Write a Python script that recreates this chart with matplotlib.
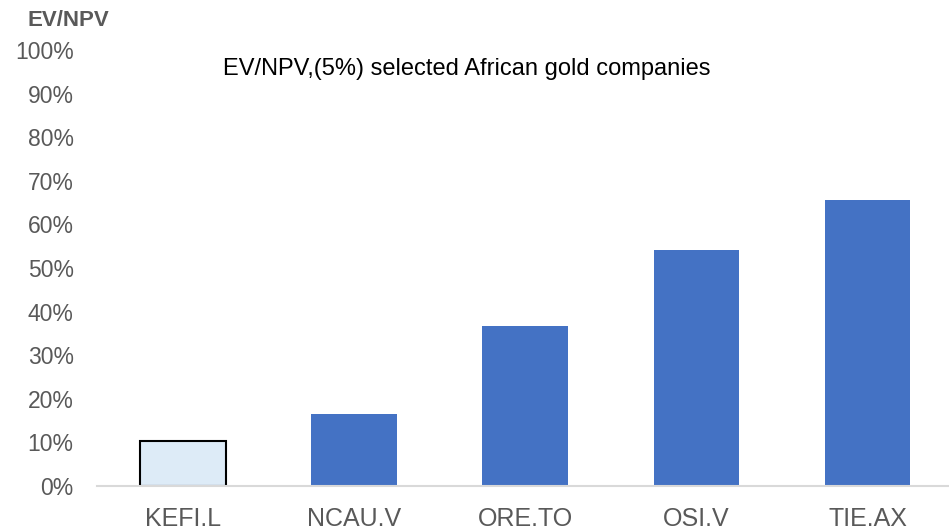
import matplotlib
matplotlib.use("Agg")
import matplotlib.pyplot as plt
from matplotlib.ticker import PercentFormatter

plt.rcParams['font.family'] = ['Liberation Sans', 'DejaVu Sans']

companies = ["KEFI.L", "NCAU.V", "ORE.TO", "OSI.V", "TIE.AX"]
ev_npv = [10.3, 16.5, 36.7, 54.1, 65.6]

colors = ["#ddebf7", "#4472c4", "#4472c4", "#4472c4", "#4472c4"]
edges = ["black", "#4472c4", "#4472c4", "#4472c4", "#4472c4"]

fig = plt.figure(figsize=(9.49, 5.31), dpi=100)
ax = fig.add_axes([0.1025, 0.0847, 0.902, 0.8211])

x = range(len(companies))
bars = ax.bar(x, ev_npv, width=0.5, color=colors, edgecolor=edges, linewidth=1.5)
for b in bars[1:]:
    b.set_linewidth(0)

ax.set_xlim(-0.5, len(companies) - 0.5)
ax.set_ylim(0, 100)
ax.set_yticks(range(0, 101, 10))
ax.yaxis.set_major_formatter(PercentFormatter(decimals=0))
ax.set_xticks(list(x))
ax.set_xticklabels(companies)

for s in ["top", "right", "left"]:
    ax.spines[s].set_visible(False)
ax.spines["bottom"].set_color("#d9d9d9")
ax.spines["bottom"].set_linewidth(1.5)
ax.tick_params(axis="both", length=0, colors="#595959")
ax.tick_params(axis="y", pad=17, labelsize=16.5)
ax.tick_params(axis="x", pad=15, labelsize=18)

ax.text(0.432, 0.943, "EV/NPV,(5%) selected African gold companies",
        transform=ax.transAxes, ha="center", va="baseline", fontsize=17,
        color="black")

fig.text(0.029, 0.962, "EV/NPV", fontsize=16, fontweight="bold", color="#595959",
         ha="left", va="center")

fig.savefig("out.png", dpi=100)
